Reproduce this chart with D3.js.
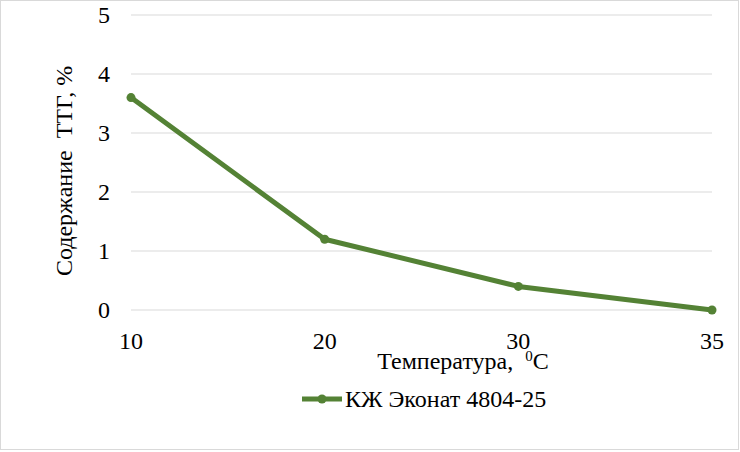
<!DOCTYPE html>
<html><head><meta charset="utf-8">
<script src="https://cdn.jsdelivr.net/npm/d3@7"></script>
<style>body{margin:0;background:#fff}svg{display:block}</style>
</head><body><svg id="c" width="740" height="452"></svg>
<script>
const categories = ["10","20","30","35"];
const values = [3.6, 1.2, 0.4, 0.0];
const yTicks = [0,1,2,3,4,5];
const seriesName = "КЖ Эконат 4804-25";
const yTitle = "Содержание\u00A0 ТТГ, %";

const FF = '"Liberation Serif"';
const svg = d3.select("#c");
svg.append("rect").attr("x",0.5).attr("y",0.5).attr("width",738).attr("height",449)
  .attr("fill","#fff").attr("stroke","#d9d9d9");

const x = d3.scalePoint().domain(categories).range([131,712]);
const y = d3.scaleLinear().domain([0,5]).range([310,15]);
const color = "#548235";
const fs = 24;

svg.append("g").selectAll("line").data(yTicks).join("line")
  .attr("x1",131).attr("x2",712).attr("y1",d=>y(d)).attr("y2",d=>y(d))
  .attr("stroke","#d9d9d9").attr("stroke-width",1);

svg.append("g").selectAll("text").data(yTicks).join("text")
  .attr("x",110).attr("y",d=>y(d)).attr("dy","0.35em").attr("text-anchor","end")
  .attr("font-size",fs).style("font-family",FF).text(d=>d);

svg.append("g").selectAll("text").data(categories).join("text")
  .attr("x",d=>x(d)).attr("y",349).attr("text-anchor","middle")
  .attr("font-size",fs).style("font-family",FF).text(d=>d);

const xt = svg.append("text").attr("x",463).attr("y",369).attr("text-anchor","middle")
  .attr("font-size",fs).style("font-family",FF);
xt.append("tspan").text("Температура,\u00A0 ");
xt.append("tspan").attr("font-size",15).attr("dy",-8).text("0");
xt.append("tspan").attr("dy",8).text("C");

svg.append("text").attr("transform","translate(72,171) rotate(-90)")
  .attr("text-anchor","middle").attr("font-size",fs).style("font-family",FF).text(yTitle);

const data = categories.map((c,i)=>({c, v: values[i]}));
svg.append("path").datum(data)
  .attr("d", d3.line().x(d=>x(d.c)).y(d=>y(d.v)))
  .attr("fill","none").attr("stroke",color).attr("stroke-width",5).attr("stroke-linejoin","round");
svg.append("g").selectAll("circle").data(data).join("circle")
  .attr("cx",d=>x(d.c)).attr("cy",d=>y(d.v)).attr("r",4.5).attr("fill",color);

const lg = svg.append("g");
lg.append("line").attr("x1",302).attr("x2",342).attr("y1",399).attr("y2",399)
  .attr("stroke",color).attr("stroke-width",5);
lg.append("circle").attr("cx",322).attr("cy",399).attr("r",4.5).attr("fill",color);
lg.append("text").attr("x",345).attr("y",407).attr("font-size",fs)
  .style("font-family",FF).text(seriesName);
</script></body></html>
